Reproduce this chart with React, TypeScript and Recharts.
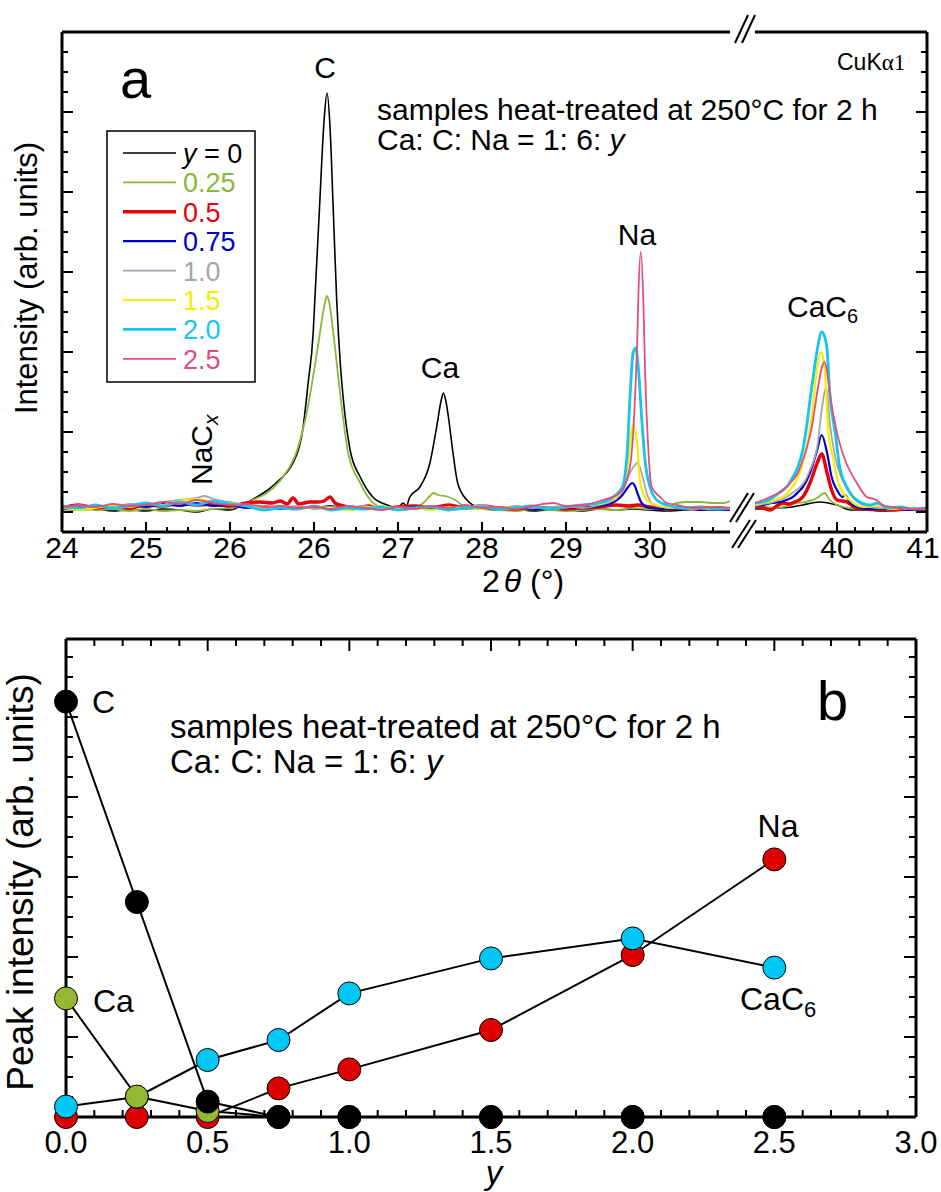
import React from 'react';
import { LineChart, Line, XAxis, YAxis } from 'recharts';

type Pt = [number, number];

const FONT = '"Liberation Sans", Arial, Helvetica, sans-serif';
const SERIF = '"Liberation Serif", "Times New Roman", serif';

// ---- panel a: XRD patterns, low-angle window (axis position) and high-angle window (2θ) ----
const Y000_LO: Pt[] = [[24.0,0.15],[24.2,0.1],[24.4,0.15],[24.6,0.05],[24.8,0.1],[25.0,0.05],[25.2,0.15],[25.4,0.1],[25.6,0.0],[25.8,0.15],[26.0,0.1],[26.15,0.35],[26.32,0.75],[26.45,1.1],[26.56,1.5],[26.67,1.95],[26.75,2.45],[26.82,3.2],[26.86,3.95],[26.93,6.45],[26.99,8.95],[27.01,10.6],[27.07,15.6],[27.12,19.6],[27.155,20.95],[27.19,19.3],[27.23,15.0],[27.27,10.6],[27.31,7.6],[27.35,5.6],[27.43,3.1],[27.55,1.75],[27.62,1.2],[27.7,0.75],[27.87,0.35],[28.0,0.2],[28.06,0.45],[28.1,0.3],[28.14,0.75],[28.26,1.25],[28.38,2.45],[28.46,4.25],[28.51,5.5],[28.54,5.95],[28.57,5.55],[28.6,4.75],[28.65,3.1],[28.71,1.45],[28.82,0.6],[28.98,0.2],[29.2,0.1],[29.4,0.15],[29.6,0.05],[29.8,0.1],[30.0,0.1],[30.2,0.05],[30.4,0.15],[30.6,0.1],[30.8,0.15],[31.0,0.1],[31.2,0.05],[31.4,0.1],[31.6,0.15],[31.8,0.1],[31.95,0.1]];
const Y025_LO: Pt[] = [[24.0,0.1],[24.2,0.2],[24.4,0.1],[24.6,0.15],[24.8,0.05],[25.0,0.15],[25.2,0.05],[25.4,0.1],[25.6,0.05],[25.8,0.15],[26.0,0.2],[26.15,0.35],[26.27,0.6],[26.44,0.95],[26.63,1.75],[26.8,3.1],[26.92,5.1],[27.04,8.1],[27.13,10.45],[27.155,10.8],[27.18,10.5],[27.23,8.95],[27.31,5.95],[27.4,3.1],[27.55,1.45],[27.67,0.6],[27.82,0.2],[28.0,0.1],[28.2,0.2],[28.3,0.45],[28.38,0.8],[28.42,0.95],[28.48,0.85],[28.6,0.75],[28.68,0.6],[28.78,0.3],[28.9,0.15],[29.0,0.15],[29.2,0.1],[29.4,0.05],[29.6,0.15],[29.8,0.1],[30.0,0.05],[30.2,0.1],[30.4,0.15],[30.6,0.1],[30.8,0.2],[31.0,0.15],[31.2,0.2],[31.32,0.45],[31.45,0.5],[31.6,0.5],[31.75,0.45],[31.88,0.45],[31.95,0.55]];
const Y050_LO: Pt[] = [[24.0,0.2],[24.2,0.35],[24.4,0.2],[24.6,0.3],[24.8,0.2],[25.0,0.35],[25.2,0.3],[25.4,0.45],[25.6,0.35],[25.8,0.4],[26.0,0.3],[26.2,0.45],[26.35,0.5],[26.5,0.45],[26.6,0.55],[26.68,0.4],[26.75,0.7],[26.82,0.4],[26.95,0.5],[27.05,0.5],[27.12,0.55],[27.19,0.75],[27.25,0.45],[27.35,0.3],[27.5,0.2],[27.65,0.3],[27.8,0.15],[28.0,0.25],[28.2,0.3],[28.4,0.2],[28.6,0.35],[28.8,0.2],[29.0,0.3],[29.2,0.2],[29.4,0.15],[29.6,0.25],[29.8,0.2],[30.0,0.15],[30.2,0.2],[30.4,0.25],[30.6,0.35],[30.75,0.3],[30.85,0.35],[31.0,0.25],[31.2,0.15],[31.4,0.2],[31.6,0.15],[31.8,0.2],[31.95,0.15]];
const Y075_LO: Pt[] = [[24.0,0.15],[24.2,0.2],[24.4,0.3],[24.6,0.2],[24.8,0.35],[25.0,0.25],[25.2,0.4],[25.4,0.3],[25.6,0.45],[25.8,0.3],[26.0,0.35],[26.2,0.2],[26.4,0.3],[26.6,0.15],[26.8,0.25],[27.0,0.2],[27.2,0.3],[27.4,0.15],[27.6,0.25],[27.8,0.15],[28.0,0.2],[28.2,0.25],[28.4,0.15],[28.6,0.2],[28.8,0.25],[29.0,0.15],[29.2,0.2],[29.4,0.25],[29.6,0.15],[29.8,0.2],[30.0,0.25],[30.2,0.2],[30.4,0.3],[30.52,0.4],[30.61,0.6],[30.68,0.9],[30.73,1.2],[30.79,1.45],[30.82,1.3],[30.85,0.95],[30.9,0.45],[31.0,0.2],[31.2,0.15],[31.4,0.2],[31.6,0.1],[31.8,0.15],[31.95,0.1]];
const Y100_LO: Pt[] = [[24.0,0.2],[24.2,0.15],[24.4,0.3],[24.6,0.25],[24.8,0.4],[25.0,0.35],[25.2,0.5],[25.4,0.6],[25.6,0.7],[25.7,0.8],[25.8,0.65],[26.0,0.5],[26.2,0.35],[26.4,0.3],[26.6,0.2],[26.8,0.3],[27.0,0.15],[27.2,0.25],[27.4,0.2],[27.6,0.3],[27.8,0.15],[28.0,0.25],[28.2,0.2],[28.4,0.3],[28.6,0.15],[28.8,0.25],[29.0,0.35],[29.2,0.2],[29.4,0.3],[29.6,0.2],[29.8,0.25],[30.0,0.3],[30.2,0.2],[30.4,0.35],[30.56,0.6],[30.68,1.1],[30.76,1.95],[30.81,2.3],[30.85,2.45],[30.9,1.95],[30.96,0.95],[31.02,0.45],[31.15,0.25],[31.3,0.2],[31.5,0.15],[31.7,0.2],[31.95,0.15]];
const Y150_LO: Pt[] = [[24.0,0.25],[24.2,0.1],[24.4,0.2],[24.6,0.35],[24.8,0.25],[25.0,0.4],[25.2,0.35],[25.4,0.55],[25.6,0.65],[25.8,0.5],[26.0,0.45],[26.2,0.3],[26.4,0.2],[26.6,0.3],[26.8,0.15],[27.0,0.25],[27.2,0.2],[27.4,0.1],[27.6,0.2],[27.8,0.3],[28.0,0.15],[28.2,0.2],[28.4,0.1],[28.6,0.25],[28.8,0.2],[29.0,0.15],[29.2,0.25],[29.4,0.2],[29.6,0.3],[29.8,0.15],[30.0,0.25],[30.2,0.35],[30.4,0.4],[30.52,0.6],[30.62,0.8],[30.68,1.25],[30.73,2.25],[30.8,4.4],[30.85,3.25],[30.88,1.6],[30.96,0.6],[31.1,0.3],[31.3,0.2],[31.5,0.25],[31.7,0.15],[31.95,0.2]];
const Y200_LO: Pt[] = [[24.0,0.3],[24.2,0.2],[24.4,0.35],[24.6,0.2],[24.8,0.3],[25.0,0.45],[25.2,0.3],[25.4,0.5],[25.6,0.35],[25.8,0.55],[26.0,0.4],[26.2,0.3],[26.4,0.1],[26.6,0.2],[26.8,0.15],[27.0,0.3],[27.2,0.1],[27.4,0.2],[27.6,0.15],[27.8,0.25],[28.0,0.1],[28.2,0.2],[28.4,0.25],[28.6,0.1],[28.8,0.2],[29.0,0.25],[29.2,0.15],[29.4,0.2],[29.6,0.3],[29.8,0.15],[30.0,0.25],[30.2,0.35],[30.4,0.45],[30.56,0.75],[30.67,1.25],[30.73,3.1],[30.76,5.6],[30.8,8.0],[30.83,8.2],[30.86,7.25],[30.9,4.75],[30.94,2.6],[31.0,1.25],[31.08,0.6],[31.2,0.35],[31.4,0.2],[31.6,0.25],[31.8,0.15],[31.95,0.2]];
const Y250_LO: Pt[] = [[24.0,0.2],[24.2,0.35],[24.4,0.25],[24.6,0.4],[24.8,0.3],[25.0,0.35],[25.2,0.5],[25.4,0.4],[25.6,0.6],[25.8,0.45],[26.0,0.35],[26.2,0.4],[26.4,0.25],[26.6,0.3],[26.8,0.2],[27.0,0.25],[27.2,0.15],[27.4,0.3],[27.6,0.2],[27.8,0.1],[28.0,0.25],[28.2,0.15],[28.4,0.3],[28.6,0.2],[28.8,0.35],[29.0,0.2],[29.2,0.25],[29.4,0.15],[29.6,0.3],[29.85,0.45],[30.0,0.3],[30.2,0.35],[30.44,0.6],[30.64,0.95],[30.76,2.25],[30.82,5.6],[30.85,8.95],[30.86,10.6],[30.89,13.0],[30.92,10.6],[30.94,7.25],[30.98,3.1],[31.02,1.25],[31.12,0.75],[31.2,0.45],[31.32,0.35],[31.5,0.2],[31.7,0.25],[31.95,0.2]];

const Y000_HI: Pt[] = [[39.09,0.15],[39.18,0.15],[39.33,0.2],[39.5,0.25],[39.62,0.35],[39.72,0.45],[39.81,0.5],[39.9,0.45],[40.0,0.35],[40.15,0.1],[40.3,0.1],[40.5,0.05],[40.7,0.1],[41.0,0.05]];
const Y025_HI: Pt[] = [[39.09,0.35],[39.2,0.25],[39.33,0.2],[39.45,0.3],[39.55,0.45],[39.65,0.5],[39.78,0.7],[39.86,0.95],[39.92,0.6],[40.0,0.35],[40.14,0.2],[40.3,0.15],[40.5,0.1],[40.7,0.15],[41.0,0.1]];
const Y050_HI: Pt[] = [[39.09,0.3],[39.18,0.2],[39.26,0.1],[39.33,0.3],[39.4,0.45],[39.47,0.4],[39.53,0.5],[39.62,0.75],[39.7,1.45],[39.78,2.45],[39.83,2.9],[39.89,1.95],[39.94,1.1],[40.0,0.6],[40.11,0.5],[40.22,0.2],[40.4,0.15],[40.6,0.1],[40.8,0.15],[41.0,0.1]];
const Y075_HI: Pt[] = [[39.09,0.3],[39.18,0.35],[39.28,0.45],[39.37,0.5],[39.44,0.6],[39.51,0.75],[39.57,1.0],[39.62,1.25],[39.7,1.95],[39.78,3.1],[39.83,3.85],[39.89,2.95],[39.94,1.75],[40.0,1.1],[40.06,0.75],[40.09,0.85],[40.14,0.5],[40.26,0.2],[40.4,0.15],[40.6,0.2],[40.8,0.1],[41.0,0.15]];
const Y100_HI: Pt[] = [[39.09,0.3],[39.18,0.4],[39.26,0.45],[39.35,0.6],[39.44,0.75],[39.52,1.0],[39.59,1.25],[39.65,1.6],[39.7,2.1],[39.75,2.7],[39.78,3.25],[39.83,5.1],[39.88,6.25],[39.92,4.45],[39.98,2.75],[40.06,1.6],[40.17,0.75],[40.29,0.35],[40.45,0.2],[40.6,0.25],[40.8,0.15],[41.0,0.2]];
const Y150_HI: Pt[] = [[39.09,0.35],[39.18,0.45],[39.3,0.6],[39.4,0.75],[39.48,1.1],[39.55,1.6],[39.64,2.75],[39.72,4.75],[39.78,7.25],[39.82,8.0],[39.85,7.6],[39.87,6.75],[39.9,4.25],[39.96,2.6],[40.03,1.25],[40.14,0.6],[40.29,0.25],[40.45,0.3],[40.6,0.15],[40.8,0.2],[41.0,0.15]];
const Y200_HI: Pt[] = [[39.09,0.45],[39.18,0.5],[39.28,0.7],[39.37,1.0],[39.45,1.3],[39.51,1.75],[39.57,2.3],[39.62,3.1],[39.66,4.2],[39.7,5.6],[39.74,6.9],[39.78,8.1],[39.83,9.0],[39.86,8.8],[39.89,8.1],[39.92,5.95],[39.98,3.95],[40.03,2.25],[40.11,1.25],[40.22,0.6],[40.37,0.35],[40.45,0.45],[40.56,0.2],[40.7,0.25],[40.85,0.15],[41.0,0.2]];
const Y250_HI: Pt[] = [[39.09,0.45],[39.18,0.6],[39.28,0.8],[39.37,1.0],[39.45,1.3],[39.51,1.6],[39.57,2.0],[39.62,2.6],[39.67,3.3],[39.72,4.25],[39.79,6.25],[39.83,7.2],[39.86,7.5],[39.89,7.0],[39.92,5.95],[40.0,3.95],[40.09,2.6],[40.22,1.45],[40.33,0.75],[40.44,0.6],[40.51,0.35],[40.6,0.25],[40.7,0.2],[40.85,0.15],[41.0,0.2]];

const PATTERNS = [
  { label: '0', color: '#000000', width: 1.6, lo: Y000_LO, hi: Y000_HI },
  { label: '0.25', color: '#8cb83a', width: 1.8, lo: Y025_LO, hi: Y025_HI },
  { label: '0.5', color: '#e8000b', width: 3.4, lo: Y050_LO, hi: Y050_HI },
  { label: '0.75', color: '#0000cc', width: 2.2, lo: Y075_LO, hi: Y075_HI },
  { label: '1.0', color: '#a6a6a6', width: 1.8, lo: Y100_LO, hi: Y100_HI },
  { label: '1.5', color: '#f5ee00', width: 2.2, lo: Y150_LO, hi: Y150_HI },
  { label: '2.0', color: '#19c3f0', width: 2.8, lo: Y200_LO, hi: Y200_HI },
  { label: '2.5', color: '#e0507c', width: 1.8, lo: Y250_LO, hi: Y250_HI },
];

// low window is laid out on a uniform scale; these are the printed labels of its major ticks
const LO_MAJORS = [24, 25, 26, 27, 28, 29, 30, 31];
const LO_LABELS = ['24', '25', '26', '26', '27', '28', '29', '30'];
const HI_MAJORS = [40, 41];
const HI_LABELS = ['40', '41'];
const A_Y_MAJORS = [0, 4, 8, 12, 16, 20];

// ---- panel b: peak intensities vs y ----
const Y_VALUES = [0, 0.25, 0.5, 0.75, 1.0, 1.5, 2.0, 2.5];
const PEAK_NA = [0, 0, 0, 1.43, 2.38, 4.35, 8.1, 12.88];
const PEAK_CAC6 = [0.52, 1.0, 2.85, 3.85, 6.18, 7.93, 8.93, 7.47];
const PEAK_CA = [5.93, 1.02, 0.3, 0, 0, 0, 0, 0];
const PEAK_C = [20.77, 10.75, 0.77, 0, 0, 0, 0, 0];

const PEAKS = [
  { name: 'Na', color: '#dd0000', values: PEAK_NA },
  { name: 'CaC6', color: '#00c6f5', values: PEAK_CAC6 },
  { name: 'Ca', color: '#94b832', values: PEAK_CA },
  { name: 'C', color: '#000000', values: PEAK_C },
];

const B_X_MAJORS = [0, 0.5, 1.0, 1.5, 2.0, 2.5, 3.0];
const B_X_LABELS = ['0.0', '0.5', '1.0', '1.5', '2.0', '2.5', '3.0'];
const B_Y_MAJORS = [0, 4, 8, 12, 16, 20];

function steps(from: number, to: number, step: number): number[] {
  const out: number[] = [];
  for (let v = from; v <= to + 1e-9; v += step) out.push(Math.round(v * 1000) / 1000);
  return out;
}
const key = (v: number) => Number(v).toFixed(3);

const AXIS = { stroke: '#000', strokeWidth: 3 };

type Side = 'bottom' | 'top' | 'left' | 'right';

// inward tick marks (long for majors), with optional labels under the bottom axis
function makeTick(
  side: Side,
  majors: number[],
  major: number,
  minor: number,
  labels?: string[],
  fontSize = 30,
  offset = 26,
  labelDx: number[] = [],
) {
  const idxOf = new Map(majors.map((v, i) => [key(v), i]));
  return (p: any) => {
    const { x, y, payload } = p;
    const idx = idxOf.get(key(payload.value));
    const len = idx === undefined ? minor : major;
    let x2 = x;
    let y2 = y;
    if (side === 'bottom') y2 = y - len;
    if (side === 'top') y2 = y + len;
    if (side === 'left') x2 = x + len;
    if (side === 'right') x2 = x - len;
    const label = idx !== undefined && labels ? labels[idx] : undefined;
    const dx = idx !== undefined ? labelDx[idx] ?? 0 : 0;
    return (
      <g>
        <line x1={x} y1={y} x2={x2} y2={y2} stroke="#000" strokeWidth={2} />
        {label !== undefined && (
          <text x={x + dx} y={y + offset} textAnchor="middle" fontSize={fontSize} fontFamily={FONT} fill="#000">
            {label}
          </text>
        )}
      </g>
    );
  };
}

const rows = (pts: Pt[]) => pts.map(([x, v]) => ({ x, v }));

const LO_DOMAIN: [number, number] = [24, 31.952];
const HI_DOMAIN: [number, number] = [39.089, 41];
const A_Y_DOMAIN: [number, number] = [-1, 24];

function PatternLow() {
  const ticks = steps(24, 31.75, 0.25);
  const yTicks = steps(0, 23, 1);
  return (
    <div style={{ position: 'absolute', left: 0, top: 0 }}>
      <LineChart width={730} height={600} margin={{ top: 0, right: 0, bottom: 0, left: 0 }}>
        <XAxis xAxisId="B" type="number" dataKey="x" domain={LO_DOMAIN} ticks={ticks} interval={0} height={68}
          tickSize={0} tickMargin={0} axisLine={AXIS} tickLine={false}
          tick={makeTick('bottom', LO_MAJORS, 10, 5, LO_LABELS, 30, 26)} />
        <XAxis xAxisId="T" orientation="top" type="number" dataKey="x" domain={LO_DOMAIN} ticks={ticks} interval={0} height={32}
          tickSize={0} tickMargin={0} axisLine={AXIS} tickLine={false}
          tick={makeTick('top', LO_MAJORS, 10, 5)} />
        <YAxis yAxisId="L" type="number" domain={A_Y_DOMAIN} ticks={yTicks} interval={0} width={62}
          tickSize={0} tickMargin={0} axisLine={AXIS} tickLine={false}
          tick={makeTick('left', A_Y_MAJORS, 11, 6)} />
        {PATTERNS.map((s) => (
          <Line key={s.label} xAxisId="B" yAxisId="L" data={rows(s.lo)} dataKey="v" type="monotone"
            stroke={s.color} strokeWidth={s.width} dot={false} activeDot={false} isAnimationActive={false} />
        ))}
      </LineChart>
    </div>
  );
}

function PatternHigh() {
  const ticks = steps(39.2, 41, 0.2);
  const yTicks = steps(0, 23, 1);
  return (
    <div style={{ position: 'absolute', left: 745, top: 0 }}>
      <LineChart width={196} height={600} margin={{ top: 0, right: 0, bottom: 0, left: 10 }}>
        <XAxis xAxisId="B" type="number" dataKey="x" domain={HI_DOMAIN} ticks={ticks} interval={0} height={68}
          tickSize={0} tickMargin={0} axisLine={AXIS} tickLine={false}
          tick={makeTick('bottom', HI_MAJORS, 10, 5, HI_LABELS, 30, 26, [0, -4])} />
        <XAxis xAxisId="T" orientation="top" type="number" dataKey="x" domain={HI_DOMAIN} ticks={ticks} interval={0} height={32}
          tickSize={0} tickMargin={0} axisLine={AXIS} tickLine={false}
          tick={makeTick('top', HI_MAJORS, 10, 5)} />
        <YAxis yAxisId="R" orientation="right" type="number" domain={A_Y_DOMAIN} ticks={yTicks} interval={0} width={14}
          tickSize={0} tickMargin={0} axisLine={AXIS} tickLine={false}
          tick={makeTick('right', A_Y_MAJORS, 11, 6)} />
        {PATTERNS.map((s) => (
          <Line key={s.label} xAxisId="B" yAxisId="R" data={rows(s.hi)} dataKey="v" type="monotone"
            stroke={s.color} strokeWidth={s.width} dot={false} activeDot={false} isAnimationActive={false} />
        ))}
      </LineChart>
    </div>
  );
}

const B_Y_DOMAIN: [number, number] = [0, 23.9];
const B_MARGIN = { top: 39, right: 25, bottom: 75, left: 66 };
const peakRows = (values: number[]) => Y_VALUES.map((y, i) => ({ y, v: values[i] }));

// frame, ticks and labels of panel b
function PeakAxes() {
  const xTicks = steps(0, 3, 0.1);
  const yTicks = steps(0, 23, 1);
  return (
    <div style={{ position: 'absolute', left: 0, top: 600 }}>
      <LineChart width={941} height={592} margin={{ top: 0, right: 0, bottom: 0, left: 0 }} data={peakRows(PEAK_C)}>
        <XAxis xAxisId="B" type="number" dataKey="y" domain={[0, 3]} ticks={xTicks} interval={0} height={B_MARGIN.bottom}
          tickSize={0} tickMargin={0} axisLine={AXIS} tickLine={false}
          tick={makeTick('bottom', B_X_MAJORS, 12, 7, B_X_LABELS, 31, 36)} />
        <XAxis xAxisId="T" orientation="top" type="number" dataKey="y" domain={[0, 3]} ticks={xTicks} interval={0} height={B_MARGIN.top}
          tickSize={0} tickMargin={0} axisLine={AXIS} tickLine={false}
          tick={makeTick('top', B_X_MAJORS, 12, 7)} />
        <YAxis yAxisId="L" type="number" domain={B_Y_DOMAIN} ticks={yTicks} interval={0} width={B_MARGIN.left}
          tickSize={0} tickMargin={0} axisLine={AXIS} tickLine={false}
          tick={makeTick('left', B_Y_MAJORS, 12, 7)} />
        <YAxis yAxisId="R" orientation="right" type="number" domain={B_Y_DOMAIN} ticks={yTicks} interval={0} width={B_MARGIN.right}
          tickSize={0} tickMargin={0} axisLine={AXIS} tickLine={false}
          tick={makeTick('right', B_Y_MAJORS, 12, 7)} />
        {/* invisible series so every axis has data bound to it */}
        <Line xAxisId="B" yAxisId="L" dataKey="v" stroke="none" dot={false} activeDot={false} isAnimationActive={false} />
        <Line xAxisId="T" yAxisId="R" dataKey="v" stroke="none" dot={false} activeDot={false} isAnimationActive={false} />
      </LineChart>
    </div>
  );
}

// markers and connecting lines of panel b, stacked above the frame
function PeakSeries() {
  return (
    <div style={{ position: 'absolute', left: 0, top: 600 }}>
      <LineChart width={941} height={592} margin={B_MARGIN}>
        <XAxis xAxisId="B" type="number" dataKey="y" domain={[0, 3]} hide />
        <YAxis yAxisId="L" type="number" domain={B_Y_DOMAIN} hide />
        {PEAKS.map((s) => (
          <Line key={s.name} xAxisId="B" yAxisId="L" data={peakRows(s.values)} dataKey="v"
            type="linear" stroke="#000" strokeWidth={2}
            dot={{ r: 11.5, fill: s.color, stroke: '#000', strokeWidth: 1 }} activeDot={false} isAnimationActive={false} />
        ))}
      </LineChart>
    </div>
  );
}

function Annotations() {
  const t = { fontFamily: FONT, fill: '#000' };
  return (
    <svg width={941} height={1192} style={{ position: 'absolute', left: 0, top: 0, pointerEvents: 'none' }}>
      {/* axis break marks */}
      <g stroke="#000" strokeWidth={2}>
        <line x1={735} y1={43} x2={748} y2={15} />
        <line x1={742} y1={43} x2={755} y2={15} />
        <line x1={730} y1={522} x2={748} y2={493} />
        <line x1={736} y1={522} x2={754} y2={493} />
        <line x1={732} y1={548} x2={750} y2={520} />
        <line x1={738} y1={548} x2={756} y2={520} />
      </g>

      {/* panel a */}
      <text x={120} y={98} fontSize={56} {...t}>a</text>
      <text x={325} y={78} fontSize={30} textAnchor="middle" {...t}>C</text>
      <text x={440} y={378} fontSize={30} textAnchor="middle" {...t}>Ca</text>
      <text x={637} y={245} fontSize={30} textAnchor="middle" {...t}>Na</text>
      <text x={787} y={317} fontSize={30} {...t}>
        CaC<tspan fontSize={20} dy={6}>6</tspan>
      </text>
      <text x={212} y={485} fontSize={30} transform="rotate(-90 212 485)" {...t}>
        NaC<tspan fontSize={21} dy={6} fontStyle="italic">x</tspan>
      </text>
      <text x={377} y={120} fontSize={30} {...t}>samples heat-treated at 250°C for 2 h</text>
      <text x={377} y={150} fontSize={30} {...t}>
        Ca: C: Na = 1: 6: <tspan fontStyle="italic">y</tspan>
      </text>
      <text x={837} y={70} fontSize={23} {...t}>
        CuK<tspan fontFamily={SERIF}>α1</tspan>
      </text>
      <text x={37} y={278} fontSize={31} textAnchor="middle" transform="rotate(-90 37 278)" {...t}>
        Intensity (arb. units)
      </text>
      <text x={482} y={592} fontSize={32} {...t}>
        2<tspan dx={4} fontStyle="italic">θ</tspan> (°)
      </text>

      {/* legend */}
      <rect x={107} y={131} width={148} height={251} fill="#fff" stroke="#000" strokeWidth={1.5} />
      {PATTERNS.map((s, i) => {
        const yy = 153 + i * 29.4;
        return (
          <g key={s.label}>
            <line x1={123} x2={176} y1={yy} y2={yy} stroke={s.color} strokeWidth={s.width} />
            <text x={183} y={yy + 10} fontSize={27} fontFamily={FONT} fill={s.color}>
              {i === 0 ? (
                <>
                  <tspan fontStyle="italic">y</tspan> = 0
                </>
              ) : (
                s.label
              )}
            </text>
          </g>
        );
      })}

      {/* panel b */}
      <text x={817} y={720} fontSize={56} {...t}>b</text>
      <text x={92} y={713} fontSize={32} {...t}>C</text>
      <text x={93} y={1012} fontSize={32} {...t}>Ca</text>
      <text x={778} y={837} fontSize={32} textAnchor="middle" {...t}>Na</text>
      <text x={740} y={1010} fontSize={32} {...t}>
        CaC<tspan fontSize={22} dy={7}>6</tspan>
      </text>
      <text x={170} y={738} fontSize={33} {...t}>samples heat-treated at 250°C for 2 h</text>
      <text x={170} y={773} fontSize={33} {...t}>
        Ca: C: Na = 1: 6: <tspan fontStyle="italic">y</tspan>
      </text>
      <text x={33} y={882} fontSize={37} textAnchor="middle" transform="rotate(-90 33 882)" {...t}>
        Peak intensity (arb. units)
      </text>
      <text x={494} y={1184} fontSize={33} textAnchor="middle" fontStyle="italic" {...t}>y</text>
    </svg>
  );
}

export default function App() {
  return (
    <div style={{ position: 'absolute', left: 0, top: 0, width: 941, height: 1192, background: '#fff' }}>
      <PatternLow />
      <PatternHigh />
      <PeakAxes />
      <PeakSeries />
      <Annotations />
    </div>
  );
}
